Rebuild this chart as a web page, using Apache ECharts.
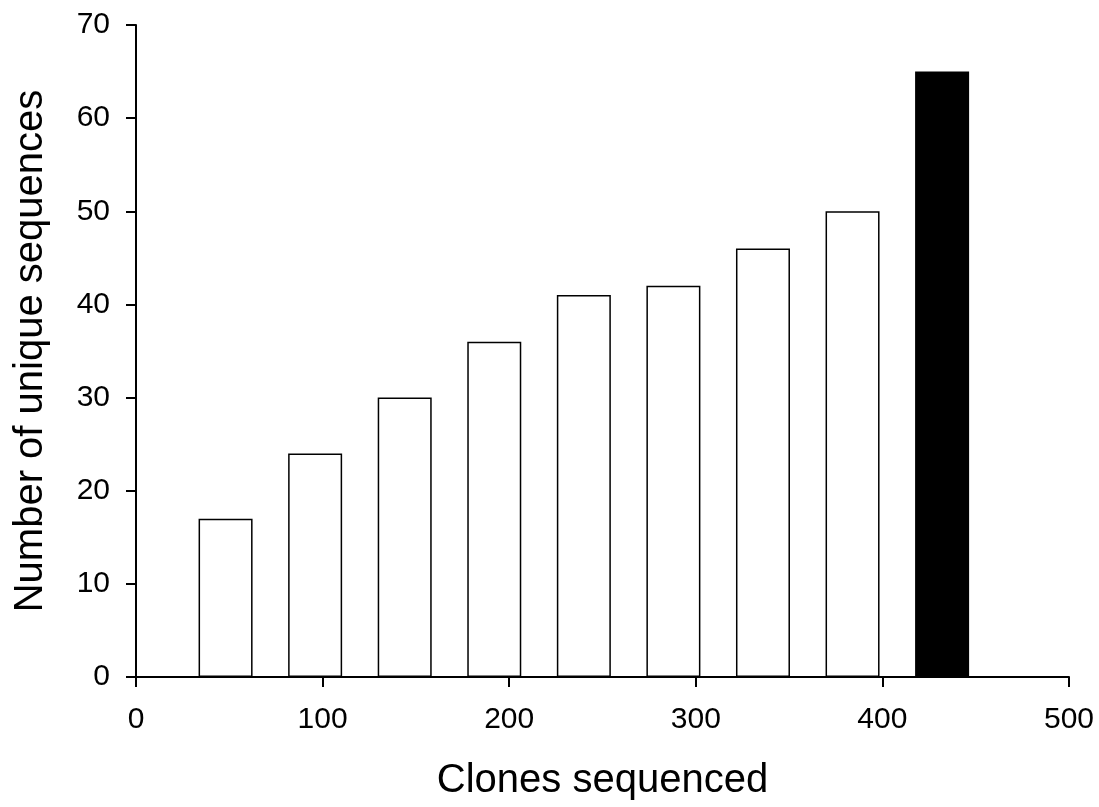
<!DOCTYPE html>
<html>
<head>
<meta charset="utf-8">
<script src="https://cdn.jsdelivr.net/npm/echarts@6/dist/echarts.min.js"></script>
<style>
  html, body { margin: 0; padding: 0; background: #fff; }
  #chart { width: 1099px; height: 807px; }
</style>
</head>
<body>
<div id="chart"></div>
<script>
// Number of clones sequenced at each sampling point
const clonesSequenced = [48, 96, 144, 192, 240, 288, 336, 384, 432];
// Unique sequences found at each point
const uniqueSequences = [17, 24, 30, 36, 41, 42, 46, 50, 65];
// Fill colour per bar (final estimate shown solid)
const barFills = ['#fff', '#fff', '#fff', '#fff', '#fff', '#fff', '#fff', '#fff', '#000'];

const xTitle = 'Clones sequenced';
const yTitle = 'Number of unique sequences';

const font = '"Liberation Sans", Arial, sans-serif';

const chart = echarts.init(document.getElementById('chart'), null, { renderer: 'canvas' });

const axisCommon = {
  axisLine: { show: true, lineStyle: { color: '#000', width: 2 } },
  axisTick: { show: true, inside: false, length: 10, lineStyle: { color: '#000', width: 2 } },
  splitLine: { show: false },
  nameTextStyle: { color: '#000', fontSize: 40, fontFamily: font },
  nameLocation: 'middle'
};

chart.setOption({
  animation: false,
  backgroundColor: '#fff',
  grid: { left: 136, right: 30, top: 25, bottom: 130, containLabel: false },
  xAxis: Object.assign({}, axisCommon, {
    type: 'value',
    min: 0, max: 500, interval: 100,
    axisLabel: { color: '#000', fontSize: 30, fontFamily: font, margin: 28 },
    name: xTitle,
    nameGap: 84
  }),
  yAxis: Object.assign({}, axisCommon, {
    type: 'value',
    min: 0, max: 70, interval: 10,
    axisLabel: { color: '#000', fontSize: 30, fontFamily: font, margin: 26 },
    name: yTitle,
    nameGap: 85
  }),
  series: [{
    type: 'bar',
    barWidth: 54,
    data: clonesSequenced.map((x, i) => ({
      value: [x, uniqueSequences[i]],
      itemStyle: { color: barFills[i], borderColor: '#000', borderWidth: 1.5 }
    }))
  }]
});
</script>
</body>
</html>
